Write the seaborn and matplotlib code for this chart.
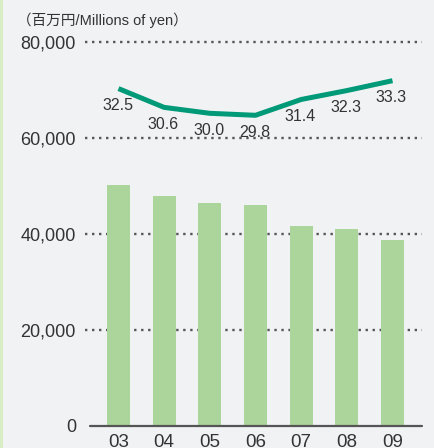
import numpy as np
import pandas as pd
import matplotlib
matplotlib.use("Agg")
import matplotlib.pyplot as plt
from matplotlib.patches import Rectangle
import seaborn as sns

# Fiscal years, net sales (millions of yen) and ratio (%)
years = ["03", "04", "05", "06", "07", "08", "09"]
sales = [50200, 47850, 46400, 45980, 41600, 40980, 38690]
ratio = [32.5, 30.6, 30.0, 29.8, 31.4, 32.3, 33.3]
y_ticks = [0, 20000, 40000, 60000, 80000]
unit_label = "（百万円/Millions of yen）"

BG = "#f1f2f4"
BAR = "#acd59c"
LINE = "#009a78"
TEXT = "#333333"
GRID = "#555555"

sns.set_theme(style="white")
plt.rcParams["font.family"] = ["Liberation Sans", "Noto Sans CJK JP", "DejaVu Sans"]
plt.rcParams["lines.scale_dashes"] = False

df = pd.DataFrame({"year": years, "sales": sales, "ratio": ratio})

fig = plt.figure(figsize=(4.35, 4.48), dpi=100, facecolor=BG)
W, H = 435, 448

# thin green strip on the left edge
fig.patches.append(Rectangle((0, 0), 3 / W, 1, transform=fig.transFigure,
                             facecolor="#d9edc4", edgecolor="none", zorder=0))

left_px, right_px = 85, 422
top_px, bottom_px = 36.9, 425.7
ax = fig.add_axes([left_px / W, 1 - bottom_px / H,
                   (right_px - left_px) / W, (bottom_px - top_px) / H])
ax.set_facecolor(BG)

sns.barplot(data=df, x="year", y="sales", color=BAR, width=0.5,
            saturation=1, linewidth=0, edgecolor="none", ax=ax, zorder=2)

ax.set_xlim(-0.733, 6.646)
ax.set_ylim(0, 81000)

# dotted horizontal guides
for v in y_ticks[1:]:
    ax.axhline(v, color=GRID, lw=1.7, linestyle=(0, (1.7, 3.35)), zorder=1,
               dash_capstyle="butt")
# baseline
ax.axhline(0, xmin=(89.7 - left_px) / (right_px - left_px), xmax=1,
           color="#555555", lw=1.6, zorder=3, clip_on=False)

for s in ax.spines.values():
    s.set_visible(False)
ax.set_yticks(y_ticks)
ax.set_yticklabels([f"{v:,}" for v in y_ticks])
ax.tick_params(axis="y", length=0, pad=6.5, labelsize=13, labelcolor=TEXT)
ax.tick_params(axis="x", length=0, pad=6.2, labelsize=13.5, labelcolor=TEXT)
ax.set_xlabel("")
ax.set_ylabel("")

# ratio line on a hidden secondary scale
ax2 = ax.twinx()
ax2.patch.set_visible(False)
xpos = np.arange(len(years))
sns.lineplot(x=xpos, y=ratio, ax=ax2, color=LINE, lw=3.6,
             solid_capstyle="butt", solid_joinstyle="round")
ax2.set_ylim(-1.6, 37.73)
ax2.set_xlim(ax.get_xlim())
ax2.set_yticks([])
for s in ax2.spines.values():
    s.set_visible(False)

for xi, v in zip(xpos, ratio):
    ax2.annotate(f"{v:.1f}", (xi, v), xytext=(-1, -17), textcoords="offset pixels",
                 ha="center", va="center", fontsize=11.5, color=TEXT)

fig.text(16.7 / W, 1 - 20.5 / H, unit_label, ha="left", va="center",
         fontsize=10.5, color=TEXT)

fig.savefig("out.png", dpi=100, facecolor=BG)
